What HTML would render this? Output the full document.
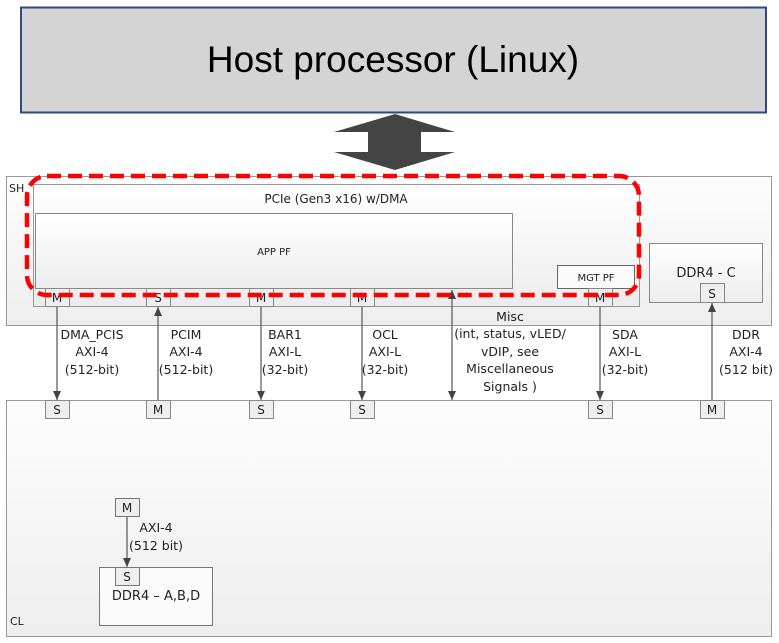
<!DOCTYPE html>
<html><head><meta charset="utf-8"><style>
html,body{margin:0;padding:0;background:#fff;width:779px;height:643px;overflow:hidden}
svg{display:block}
text{font-family:"DejaVu Sans","Liberation Sans",sans-serif;fill:#222}
</style></head><body>
<svg width="779" height="643" viewBox="0 0 779 643" xmlns="http://www.w3.org/2000/svg">
<defs>
<linearGradient id="g" x1="0" y1="0" x2="0" y2="1"><stop offset="0" stop-color="#fdfdfd"/><stop offset="1" stop-color="#eeeeee"/></linearGradient>
<linearGradient id="g2" x1="0" y1="0" x2="0" y2="1"><stop offset="0" stop-color="#ffffff"/><stop offset="1" stop-color="#ececec"/></linearGradient>
<marker id="ah" markerWidth="9" markerHeight="8" refX="9" refY="4" orient="auto-start-reverse" markerUnits="userSpaceOnUse"><path d="M0,0 L9,4 L0,8 z" fill="#444"/></marker>
</defs>
<!-- Host -->
<rect x="21" y="7.5" width="745" height="105" fill="#d4d4d4" stroke="#2f4a80" stroke-width="2"/>
<text x="393" y="72" text-anchor="middle" style="font-family:'Liberation Sans',sans-serif;font-size:37px;fill:#000">Host processor (Linux)</text>
<!-- big arrow -->
<polygon points="395,114 455,132 421,132 421,152 455,152 395,170 334,152 368,152 368,132 334,132" fill="#444"/>
<!-- SH -->
<rect x="6.5" y="176.5" width="765" height="149" fill="url(#g)" stroke="#999"/>
<text x="9" y="192" font-size="11">SH</text>
<rect x="33.5" y="184.5" width="606" height="122" fill="url(#g2)" stroke="#999"/>
<text x="336" y="203" font-size="12" text-anchor="middle">PCIe (Gen3 x16) w/DMA</text>
<rect x="35.5" y="213.5" width="477" height="75" fill="url(#g2)" stroke="#888"/>
<text x="274" y="255" font-size="10" text-anchor="middle">APP PF</text>
<rect x="557.5" y="265.5" width="77" height="23" fill="#fafafa" stroke="#666"/>
<text x="596" y="281" font-size="10" text-anchor="middle">MGT PF</text>
<rect x="649.5" y="243.5" width="113" height="59" fill="url(#g2)" stroke="#888"/>
<text x="706" y="277" font-size="13" text-anchor="middle">DDR4 - C</text>
<!-- top ports -->
<g font-size="12" text-anchor="middle">
<rect x="45.5" y="288.5" width="24" height="18" fill="#eee" stroke="#888"/><text x="57" y="302">M</text>
<rect x="146.5" y="288.5" width="24" height="18" fill="#eee" stroke="#888"/><text x="158" y="302">S</text>
<rect x="249.5" y="288.5" width="24" height="18" fill="#eee" stroke="#888"/><text x="261" y="302">M</text>
<rect x="350.5" y="288.5" width="24" height="18" fill="#eee" stroke="#888"/><text x="362" y="302">M</text>
<rect x="588.5" y="288.5" width="24" height="18" fill="#eee" stroke="#888"/><text x="600" y="302">M</text>
<rect x="700.5" y="283.5" width="24" height="19" fill="#eee" stroke="#888"/><text x="712" y="298">S</text>
</g>
<!-- CL -->
<rect x="6.5" y="400.5" width="765" height="236" fill="url(#g)" stroke="#999"/>
<text x="10" y="625" font-size="11">CL</text>
<g font-size="12" text-anchor="middle">
<rect x="45.5" y="400.5" width="24" height="18" fill="#eee" stroke="#888"/><text x="57" y="414">S</text>
<rect x="146.5" y="400.5" width="24" height="18" fill="#eee" stroke="#888"/><text x="158" y="414">M</text>
<rect x="249.5" y="400.5" width="24" height="18" fill="#eee" stroke="#888"/><text x="261" y="414">S</text>
<rect x="350.5" y="400.5" width="24" height="18" fill="#eee" stroke="#888"/><text x="362" y="414">S</text>
<rect x="588.5" y="400.5" width="24" height="18" fill="#eee" stroke="#888"/><text x="600" y="414">S</text>
<rect x="700.5" y="400.5" width="24" height="18" fill="#eee" stroke="#888"/><text x="712" y="414">M</text>
<rect x="99.5" y="567.5" width="113" height="58" fill="#fafafa" stroke="#777"/>
<rect x="115.5" y="498.5" width="24" height="18" fill="#eee" stroke="#777"/><text x="127" y="512">M</text>
<rect x="115.5" y="567.5" width="24" height="18" fill="#eee" stroke="#777"/><text x="127" y="581">S</text>
<text x="156" y="600" font-size="13">DDR4 – A,B,D</text>
</g>
<!-- connectors -->
<g stroke="#555" stroke-width="1.2" fill="none">
<line x1="57" y1="307" x2="57" y2="400" marker-end="url(#ah)"/>
<line x1="158" y1="400" x2="158" y2="307" marker-end="url(#ah)"/>
<line x1="261" y1="307" x2="261" y2="400" marker-end="url(#ah)"/>
<line x1="362" y1="307" x2="362" y2="400" marker-end="url(#ah)"/>
<line x1="452" y1="290" x2="452" y2="400" marker-start="url(#ah)" marker-end="url(#ah)"/>
<line x1="600" y1="307" x2="600" y2="400" marker-end="url(#ah)"/>
<line x1="712" y1="400" x2="712" y2="303" marker-end="url(#ah)"/>
<line x1="127" y1="517" x2="127" y2="567" marker-end="url(#ah)"/>
</g>
<!-- labels -->
<g font-size="12.5" text-anchor="middle">
<text x="92" y="339">DMA_PCIS</text><text x="92" y="356">AXI-4</text><text x="92" y="374">(512-bit)</text>
<text x="186" y="339">PCIM</text><text x="186" y="356">AXI-4</text><text x="186" y="374">(512-bit)</text>
<text x="285" y="339">BAR1</text><text x="285" y="356">AXI-L</text><text x="285" y="374">(32-bit)</text>
<text x="385" y="339">OCL</text><text x="385" y="356">AXI-L</text><text x="385" y="374">(32-bit)</text>
<text x="510" y="321">Misc</text><text x="510" y="338">(int, status, vLED/</text><text x="510" y="356">vDIP, see</text><text x="510" y="373">Miscellaneous</text><text x="510" y="391">Signals )</text>
<text x="625" y="339">SDA</text><text x="625" y="356">AXI-L</text><text x="625" y="374">(32-bit)</text>
<text x="746" y="339">DDR</text><text x="746" y="356">AXI-4</text><text x="746" y="374">(512 bit)</text>
<text x="156" y="532">AXI-4</text><text x="156" y="550">(512 bit)</text>
</g>
<!-- red dashed outline -->
<rect x="27" y="176" width="612" height="119" rx="20" ry="20" fill="none" stroke="#ff0000" stroke-width="4.5" stroke-dasharray="14,7"/>
</svg>
</body></html>
